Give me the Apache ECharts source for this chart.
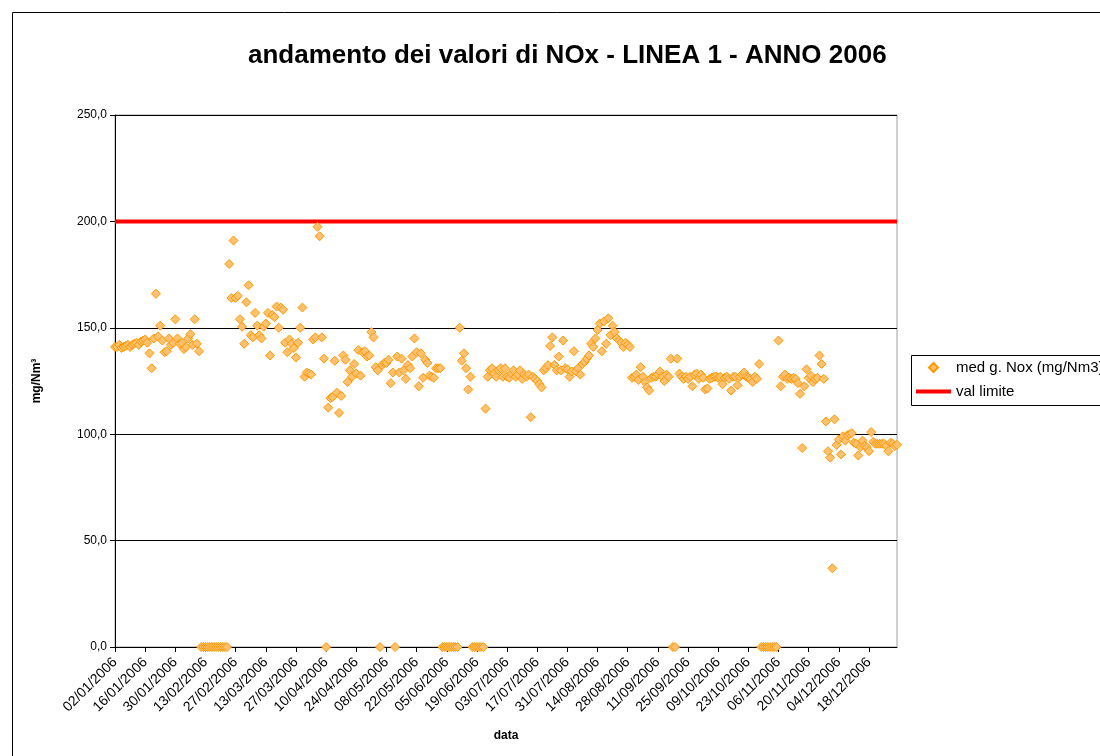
<!DOCTYPE html>
<html><head><meta charset="utf-8">
<script src="https://cdn.jsdelivr.net/npm/echarts@6/dist/echarts.min.js"></script>
<style>html,body{margin:0;padding:0;background:#fff}#c{width:1100px;height:756px}</style>
</head><body><div id="c"></div>
<script>
const TITLE = 'andamento dei valori di NOx - LINEA 1 - ANNO 2006';
const SERIES_NOX = 'med g. Nox (mg/Nm3)';
const SERIES_LIM = 'val limite';
const X_NAME = 'data';
const Y_NAME = 'mg/Nm³';
const LIMIT = 200;
const Y_MIN = 0, Y_MAX = 250, Y_STEP = 50;

const jan = [141,141,142,140.5,141,141.5,142,141,142,142.5,143,142,143.5,144,144.5,143,138,131,145,166,146,151,144,138.5,139,145,142,143,154,145];
const feb = [142.5,143,140,141,145,147,142,154,142.5,139,0,0,0,0,0,0,0,0,0,0,0,0,0,180,164,191,164,165];
const mar = [154,150.5,142.5,162,170,146.5,145.5,157,151,146.5,145,150.5,152,157,137,156,155,160,150,159.5,158.5,143,138.5,144.5,142.5,140.5,136,143,150,159.5,127];
const apr = [129,128.5,128,144.5,145.5,197.5,193,145.5,135.5,0,112.5,117,117.5,134.5,119.5,110,118,137,135,124.5,130,127,133,128.5,139.5,127.5,138.5,139,136.5,137];
const may = [148,145.5,131.5,130,0,132.5,133.5,133.5,135,124,129,0,136.5,129,135.5,130,126,132.5,131,136.5,145,138.5,122.5,138,126.5,135,133.5,127.5,127,126.5,131];
const jun = [131,131,0,0,0,0,0,0,0,0,150,134.5,138,131,121,127,0,0,0,0,0,0,112,127,130,131,128.5,127,130,131];
const jul = [127,131,127,126.5,128.5,130,127,128,130,126,128,127,128,108,127,126,125,123.5,122,130,131,132.5,141.5,145.5,132.5,130,136.5,130,144,131,130.5];
const aug = [127,129.5,139,129.5,131,128,133,134,135.5,137,142.5,141,145,149,152,139,153,142.5,154.5,146.5,151,148,145,144,143,141,143,142,141,126.5,127];
const sep = [128,125.5,131.5,127,124.5,122,120.5,126.5,127,127,128,129.5,127,125,128,127,135.5,0,0,135.5,128.5,127,126,127,126,127,122.5,128,128.5,126];
const oct = [128,126.5,121,121.5,126,126.5,127,127,126.5,127,123.5,126.5,127,126,120.5,127,127,123,127,128,129,127,126.5,126,124.5,127,126,133,0,0,0];
const nov = [0,0,0,0,0,144,122.5,127,128,126,126.5,126,126.5,126,124,119,93.5,122.5,130.5,126.5,127.5,124.5,126,126.5,137,133,126,106,92,89];
const dec = [37,107,95,97.5,90.5,99,97,99.5,100,100.5,96,95.5,90,94,97,94.5,94,92,101,96.5,95.5,95.5,95.5,95.5,95.5,94.5,92,96,95.5,94.5,95];

const months = [jan,feb,mar,apr,may,jun,jul,aug,sep,oct,nov,dec];
const firstDay = [2,1,1,1,1,1,1,1,1,1,1,1];
const pad = n => (n < 10 ? '0' : '') + n;
const dates = [], nox = [];
months.forEach((arr, m) => arr.forEach((v, k) => {
  dates.push(pad(firstDay[m] + k) + '/' + pad(m + 1) + '/2006');
  nox.push(v);
}));
const limitData = dates.map(() => LIMIT);

const FONT = '"Liberation Sans", Arial, sans-serif';
const chart = echarts.init(document.getElementById('c'), null, {renderer: 'canvas'});
chart.setOption({
  animation: false,
  backgroundColor: '#fff',
  textStyle: {fontFamily: FONT},
  title: {
    text: TITLE, left: 243, top: 38,
    textStyle: {fontFamily: FONT, fontSize: 26, fontWeight: 'bold', color: '#000'}
  },
  graphic: [{
    type: 'rect', silent: true, z: -10,
    shape: {x: 12.5, y: 12.5, width: 1100, height: 760},
    style: {fill: 'none', stroke: '#000', lineWidth: 1}
  }, {
    type: 'rect', silent: true, z: -5,
    shape: {x: 911.5, y: 355.5, width: 200, height: 50},
    style: {fill: '#fff', stroke: '#000', lineWidth: 1}
  }],
  legend: [{
    orient: 'vertical', left: 928, top: 360, padding: 0,
    itemWidth: 9, itemHeight: 9,
    textStyle: {fontFamily: FONT, fontSize: 15, color: '#000', padding: [0, 0, 0, 13]},
    data: [{name: SERIES_NOX, icon: 'diamond'}]
  }, {
    orient: 'vertical', left: 916, top: 384, padding: 0,
    itemWidth: 35, itemHeight: 4,
    textStyle: {fontFamily: FONT, fontSize: 15, color: '#000', padding: [0, 0, 0, 0]},
    data: [{name: SERIES_LIM, icon: 'rect', itemStyle: {color: '#ff0000'}}]
  }],
  grid: {
    left: 115, right: 203, top: 115, bottom: 109,
    show: true, borderColor: '#a0a0a0', borderWidth: 1, backgroundColor: '#fff'
  },
  xAxis: {
    type: 'category', data: dates, boundaryGap: false,
    name: X_NAME, nameLocation: 'middle', nameGap: 83,
    nameTextStyle: {fontFamily: FONT, fontSize: 12, fontWeight: 'bold', color: '#000'},
    axisLine: {lineStyle: {color: '#000', width: 1}},
    axisTick: {interval: 13, length: 5, lineStyle: {color: '#000'}},
    axisLabel: {interval: 13, rotate: 45, fontSize: 14, color: '#000', fontFamily: FONT, margin: 13},
    splitLine: {show: false}
  },
  yAxis: {
    type: 'value', min: Y_MIN, max: Y_MAX, interval: Y_STEP,
    name: Y_NAME, nameLocation: 'middle', nameGap: 72, nameRotate: 90,
    nameTextStyle: {fontFamily: FONT, fontSize: 12, fontWeight: 'bold', color: '#000'},
    axisLine: {show: true, lineStyle: {color: '#000', width: 1}},
    axisTick: {show: true, length: 5, lineStyle: {color: '#000'}},
    axisLabel: {fontSize: 12, color: '#000', fontFamily: FONT, margin: 8,
      formatter: v => v.toFixed(1).replace('.', ',')},
    splitLine: {show: true, lineStyle: {color: '#000', width: 1}}
  },
  series: [
    {
      name: SERIES_NOX, type: 'scatter', data: nox,
      symbol: 'diamond', symbolSize: 9,
      itemStyle: {color: '#ffc070', borderColor: '#ff9900', borderWidth: 1, opacity: 1},
      z: 3
    },
    {
      name: SERIES_LIM, type: 'line', data: limitData,
      symbol: 'none', showSymbol: false,
      lineStyle: {color: '#ff0000', width: 4},
      itemStyle: {color: '#ff0000'},
      z: 2
    }
  ]
});
</script>
</body></html>
